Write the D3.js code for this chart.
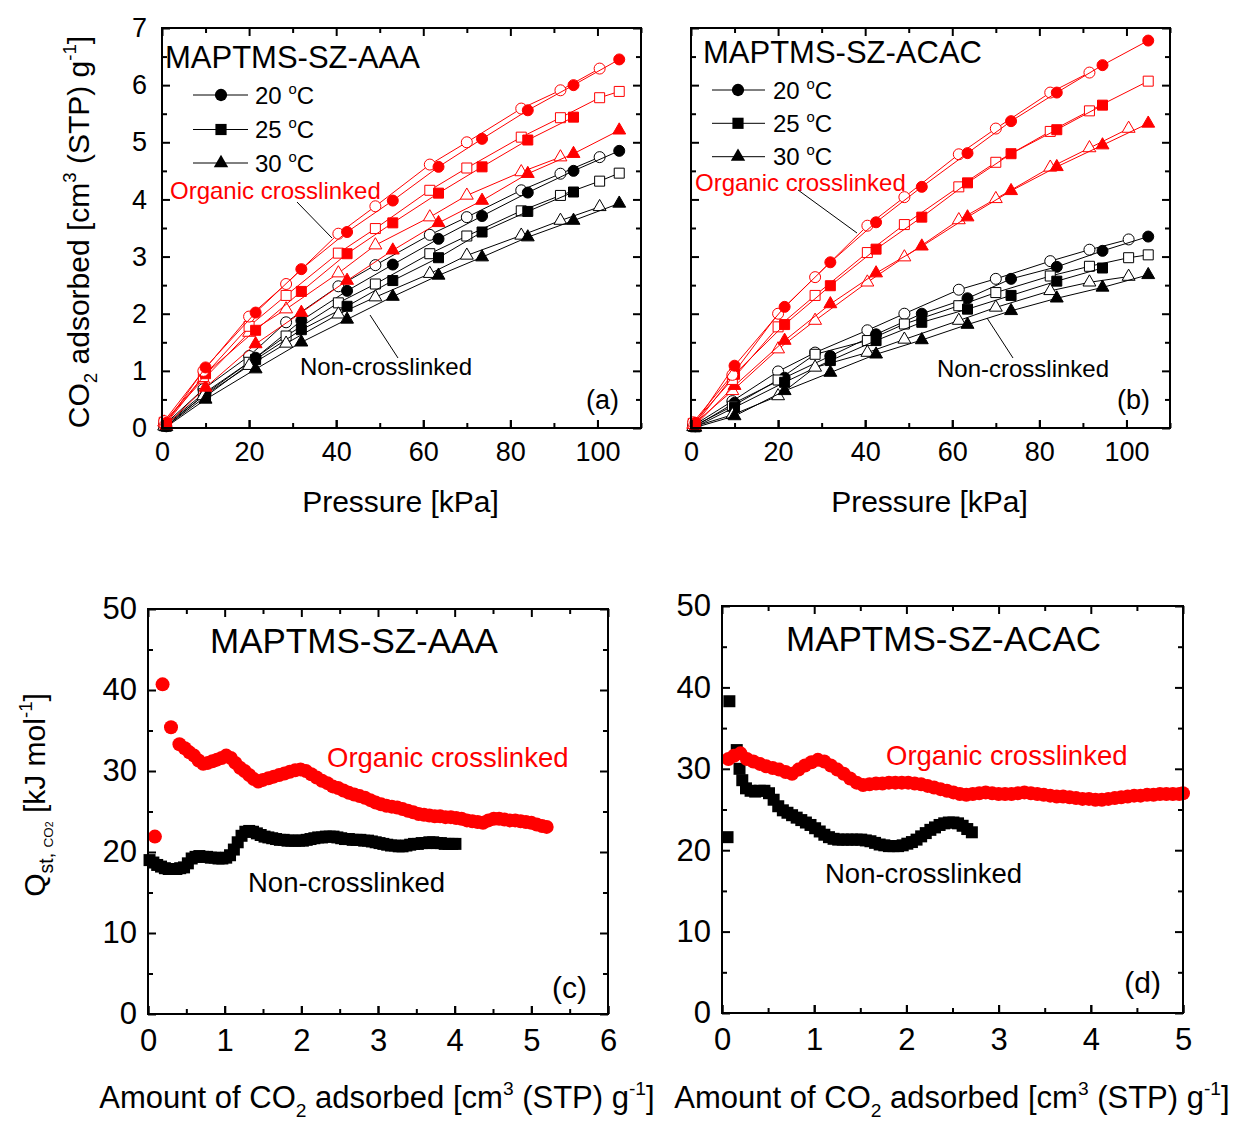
<!DOCTYPE html>
<html>
<head>
<meta charset="utf-8">
<script src="https://cdn.jsdelivr.net/npm/d3@7/dist/d3.min.js"></script>
<style>
  body { margin: 0; background: #fff; }
  svg text { font-family: "Liberation Sans", Arial, sans-serif; }
</style>
</head>
<body>
<div class="chart"></div>
<script>
// ---- data: isotherms (a), (b) ----
const pOpen = [0.5, 9.5, 20, 28.5, 40.5, 49, 61.5, 70, 82.5, 91.5, 100.5, 105];
const pFilled = [1, 10, 21.5, 32, 42.5, 53, 63.5, 73.5, 84, 94.5, 105];

const aRedCircleOpen = [0.12, 1.0, 1.95, 2.52, 3.40, 3.88, 4.61, 5.0, 5.59, 5.91, 6.29, null];
const aRedCircleFilled = [0.09, 1.06, 2.02, 2.78, 3.43, 3.98, 4.57, 5.06, 5.56, 6.0, 6.45];
const aRedSquareOpen = [0.1, 0.9, 1.78, 2.32, 3.06, 3.49, 4.16, 4.55, 5.09, 5.43, 5.78, 5.89];
const aRedSquareFilled = [0.08, 0.95, 1.71, 2.39, 3.05, 3.59, 4.11, 4.57, 5.04, 5.44, null];
const aRedTriangleOpen = [0.1, 0.85, 1.67, 2.08, 2.71, 3.2, 3.69, 4.07, 4.48, 4.74, null, null];
const aRedTriangleFilled = [0.05, 0.71, 1.47, 2.02, 2.58, 3.11, 3.59, 3.98, 4.45, 4.80, 5.21];
const aBlackCircleOpen = [0.05, 0.68, 1.26, 1.85, 2.48, 2.85, 3.38, 3.69, 4.16, 4.45, 4.74, null];
const aBlackCircleFilled = [0.03, 0.6, 1.23, 1.88, 2.40, 2.86, 3.31, 3.71, 4.12, 4.50, 4.85];
const aBlackSquareOpen = [0.04, 0.6, 1.15, 1.61, 2.19, 2.52, 3.05, 3.36, 3.80, 4.07, 4.32, 4.46];
const aBlackSquareFilled = [0.03, 0.55, 1.2, 1.72, 2.13, 2.58, 2.98, 3.43, 3.79, 4.13, null];
const aBlackTriangleOpen = [0.03, 0.56, 1.09, 1.48, 1.99, 2.29, 2.70, 3.02, 3.37, 3.63, 3.87, null];
const aBlackTriangleFilled = [0.02, 0.50, 1.03, 1.50, 1.90, 2.30, 2.67, 2.99, 3.34, 3.63, 3.93];

const bRedCircleOpen = [0.1, 0.93, 2.00, 2.64, 3.54, 4.04, 4.79, 5.24, 5.87, 6.22, null, null];
const bRedCircleFilled = [0.09, 1.09, 2.12, 2.90, 3.60, 4.22, 4.81, 5.37, 5.87, 6.35, 6.78];
const bRedSquareOpen = [0.08, 0.85, 1.77, 2.32, 3.07, 3.56, 4.22, 4.65, 5.19, 5.55, null, 6.07];
const bRedSquareFilled = [0.07, 0.94, 1.81, 2.49, 3.13, 3.69, 4.29, 4.80, 5.22, 5.65, null];
const bRedTriangleOpen = [0.06, 0.65, 1.38, 1.88, 2.55, 2.99, 3.64, 4.01, 4.56, 4.90, 5.24, null];
const bRedTriangleFilled = [0.05, 0.74, 1.53, 2.17, 2.71, 3.18, 3.69, 4.15, 4.57, 4.95, 5.33];
const bBlackCircleOpen = [0.04, 0.47, 0.99, 1.32, 1.71, 2.0, 2.42, 2.61, 2.92, 3.12, 3.30, null];
const bBlackCircleFilled = [0.03, 0.44, 0.88, 1.26, 1.64, 2.0, 2.27, 2.61, 2.82, 3.10, 3.35];
const bBlackSquareOpen = [0.03, 0.38, 0.84, 1.29, 1.53, 1.82, 2.14, 2.37, 2.66, 2.83, 2.98, 3.03];
const bBlackSquareFilled = [0.02, 0.36, 0.80, 1.18, 1.53, 1.85, 2.08, 2.32, 2.57, 2.80, null];
const bBlackTriangleOpen = [0.02, 0.23, 0.56, 1.06, 1.32, 1.55, 1.88, 2.11, 2.40, 2.55, 2.65, null];
const bBlackTriangleFilled = [0.01, 0.21, 0.65, 0.97, 1.29, 1.54, 1.81, 2.05, 2.27, 2.46, 2.68];

// ---- data: heats of adsorption (c), (d) ----
const cRedAmount = [0.09, 0.19, 0.30, 0.41, 0.48, 0.54, 0.60, 0.66, 0.72, 0.78, 0.84, 0.90, 0.96, 1.02, 1.08, 1.14, 1.20, 1.26, 1.32, 1.38, 1.44, 1.50, 1.57, 1.64, 1.71, 1.78, 1.85, 1.92, 1.99, 2.06, 2.13, 2.20, 2.27, 2.34, 2.41, 2.48, 2.55, 2.62, 2.69, 2.76, 2.83, 2.90, 2.97, 3.04, 3.11, 3.18, 3.25, 3.32, 3.39, 3.46, 3.53, 3.60, 3.67, 3.74, 3.81, 3.88, 3.95, 4.02, 4.09, 4.16, 4.23, 4.30, 4.37, 4.44, 4.51, 4.58, 4.65, 4.72, 4.79, 4.86, 4.93, 5.00, 5.07, 5.14, 5.20];
const cRedQ = [21.9, 40.7, 35.4, 33.3, 32.8, 32.3, 31.9, 31.3, 30.9, 31.0, 31.2, 31.4, 31.6, 31.9, 31.6, 31.0, 30.4, 30.0, 29.5, 29.0, 28.7, 28.9, 29.1, 29.3, 29.5, 29.7, 29.9, 30.1, 30.2, 30.0, 29.6, 29.2, 28.8, 28.5, 28.1, 27.9, 27.6, 27.3, 27.1, 26.9, 26.7, 26.4, 26.1, 25.9, 25.7, 25.6, 25.5, 25.3, 25.1, 24.9, 24.7, 24.6, 24.5, 24.4, 24.4, 24.3, 24.3, 24.2, 24.1, 23.9, 23.8, 23.7, 23.6, 23.9, 24.1, 24.1, 24.0, 23.9, 23.9, 23.8, 23.7, 23.6, 23.4, 23.2, 23.1];
const cBlackAmount = [0.02, 0.07, 0.12, 0.17, 0.22, 0.27, 0.32, 0.37, 0.42, 0.47, 0.52, 0.57, 0.62, 0.67, 0.72, 0.77, 0.82, 0.87, 0.92, 0.97, 1.02, 1.07, 1.12, 1.17, 1.22, 1.27, 1.32, 1.37, 1.42, 1.47, 1.52, 1.57, 1.62, 1.67, 1.72, 1.77, 1.82, 1.87, 1.92, 1.97, 2.02, 2.07, 2.12, 2.17, 2.22, 2.27, 2.32, 2.37, 2.42, 2.47, 2.52, 2.57, 2.62, 2.67, 2.72, 2.77, 2.82, 2.87, 2.92, 2.97, 3.02, 3.07, 3.12, 3.17, 3.22, 3.27, 3.32, 3.37, 3.42, 3.47, 3.52, 3.57, 3.62, 3.67, 3.72, 3.77, 3.82, 3.87, 3.92, 3.97, 4.01];
const cBlackQ = [19.0, 18.7, 18.4, 18.2, 18.0, 17.9, 17.9, 17.9, 18.0, 18.1, 18.6, 19.2, 19.4, 19.5, 19.4, 19.4, 19.3, 19.3, 19.2, 19.2, 19.3, 19.6, 20.3, 21.2, 22.0, 22.5, 22.6, 22.5, 22.3, 22.1, 21.9, 21.8, 21.7, 21.6, 21.5, 21.5, 21.4, 21.4, 21.4, 21.4, 21.4, 21.5, 21.6, 21.7, 21.8, 21.8, 21.9, 21.9, 21.9, 21.8, 21.7, 21.6, 21.6, 21.5, 21.5, 21.5, 21.4, 21.4, 21.3, 21.2, 21.1, 21.0, 20.9, 20.8, 20.8, 20.7, 20.7, 20.8, 20.9, 21.0, 21.0, 21.1, 21.1, 21.2, 21.2, 21.1, 21.1, 21.0, 21.0, 21.0, 21.0];

const dRedAmount = [0.07, 0.13, 0.20, 0.27, 0.34, 0.41, 0.48, 0.55, 0.62, 0.69, 0.76, 0.83, 0.90, 0.97, 1.04, 1.11, 1.18, 1.25, 1.32, 1.39, 1.46, 1.53, 1.60, 1.67, 1.74, 1.81, 1.88, 1.95, 2.02, 2.09, 2.16, 2.23, 2.30, 2.37, 2.44, 2.51, 2.58, 2.65, 2.72, 2.79, 2.86, 2.93, 3.00, 3.07, 3.14, 3.21, 3.28, 3.35, 3.42, 3.49, 3.56, 3.63, 3.70, 3.77, 3.84, 3.91, 3.98, 4.05, 4.12, 4.19, 4.26, 4.33, 4.40, 4.47, 4.54, 4.61, 4.68, 4.75, 4.82, 4.89, 4.96, 5.00];
const dRedQ = [31.2, 31.6, 31.9, 31.2, 30.9, 30.6, 30.3, 30.1, 29.9, 29.6, 29.4, 29.9, 30.4, 30.8, 31.1, 30.9, 30.4, 29.9, 29.4, 28.8, 28.3, 28.0, 28.1, 28.2, 28.2, 28.3, 28.3, 28.3, 28.3, 28.2, 28.1, 27.9, 27.7, 27.5, 27.3, 27.1, 26.9, 26.8, 26.9, 27.0, 27.1, 27.0, 26.9, 26.9, 26.9, 27.0, 27.1, 27.0, 26.9, 26.8, 26.7, 26.6, 26.6, 26.5, 26.4, 26.3, 26.3, 26.2, 26.2, 26.3, 26.4, 26.5, 26.6, 26.7, 26.7, 26.8, 26.8, 26.9, 26.9, 26.9, 26.9, 27.0];
const dBlackAmount = [0.08, 0.06, 0.16, 0.19, 0.22, 0.26, 0.31, 0.36, 0.41, 0.46, 0.51, 0.56, 0.61, 0.66, 0.71, 0.76, 0.81, 0.86, 0.91, 0.96, 1.01, 1.06, 1.11, 1.16, 1.21, 1.26, 1.31, 1.36, 1.41, 1.46, 1.51, 1.56, 1.61, 1.66, 1.71, 1.76, 1.81, 1.86, 1.91, 1.96, 2.01, 2.06, 2.11, 2.16, 2.21, 2.26, 2.31, 2.36, 2.41, 2.46, 2.51, 2.56, 2.61, 2.66, 2.71];
const dBlackQ = [38.3, 21.6, 32.3, 30.0, 28.6, 27.6, 27.3, 27.2, 27.3, 27.3, 27.0, 26.2, 25.4, 24.9, 24.6, 24.3, 24.0, 23.7, 23.4, 23.1, 22.7, 22.3, 21.9, 21.6, 21.4, 21.3, 21.3, 21.3, 21.3, 21.3, 21.3, 21.2, 21.1, 20.9, 20.7, 20.6, 20.5, 20.5, 20.5, 20.6, 20.8, 21.0, 21.3, 21.7, 22.1, 22.5, 22.8, 23.1, 23.3, 23.4, 23.4, 23.3, 23.0, 22.6, 22.2];

const tempLabels = ['20 ', '25 ', '30 '];
const isoYTicks = [0, 1, 2, 3, 4, 5, 6, 7];
const isoXTicks = [0, 20, 40, 60, 80, 100];
const qYTicks = [0, 10, 20, 30, 40, 50];

const RED = '#ff0000';
const BLACK = '#000000';

const svg = d3.select('.chart').append('svg')
  .attr('width', 1237).attr('height', 1121);

const shapes = { circle: d3.symbolCircle, square: d3.symbolSquare, triangle: d3.symbolTriangle };
const sizes = { circle: 95, square: 100, triangle: 72 };
const fmt = d3.format('d');

// text with sub/superscripts: parts = [text, kind, scale]
function rich(sel, fs, parts) {
  let shift = 0;
  parts.forEach(([t, kind, scale]) => {
    const target = kind === 'sup' ? -0.42 * fs : kind === 'sub' ? 0.28 * fs : 0;
    sel.append('tspan')
      .attr('dy', target - shift)
      .style('font-size', (fs * (scale || 1)) + 'px')
      .text(t);
    shift = target;
  });
  return sel;
}

function frameAxes(g, x, y, opt) {
  const [x0, x1] = x.range();
  const [y0, y1] = y.range();
  const xMinor = d3.range(x.domain()[0], x.domain()[1] + 1e-9, opt.xMinor);
  const yMinor = d3.range(y.domain()[0], y.domain()[1] + 1e-9, opt.yMinor);
  const isMajor = (v, step) => Math.abs(v / step - Math.round(v / step)) < 1e-6;

  const addAx = (axis, tr, labels, fs) => {
    const a = g.append('g').attr('transform', tr).call(axis);
    a.select('.domain').remove();
    a.selectAll('.tick line').attr('stroke', '#000').attr('stroke-width', 2);
    a.selectAll('text').style('font-size', fs + 'px').attr('fill', '#000');
    if (!labels) a.selectAll('text').remove();
    return a;
  };
  const xMaj = xMinor.filter(v => isMajor(v, opt.xMajor));
  const xMin = xMinor.filter(v => !isMajor(v, opt.xMajor));
  const yMaj = yMinor.filter(v => isMajor(v, opt.yMajor));
  const yMin = yMinor.filter(v => !isMajor(v, opt.yMajor));

  // bottom / top
  addAx(d3.axisBottom(x).tickValues(opt.xLabels).tickFormat(fmt).tickSize(-8).tickPadding(opt.xPad), `translate(0,${y0})`, true, opt.fs);
  addAx(d3.axisBottom(x).tickValues(xMaj).tickSize(-8), `translate(0,${y0})`, false);
  addAx(d3.axisBottom(x).tickValues(xMin).tickSize(-5), `translate(0,${y0})`, false);
  addAx(d3.axisTop(x).tickValues(xMaj).tickSize(-8), `translate(0,${y1})`, false);
  addAx(d3.axisTop(x).tickValues(xMin).tickSize(-5), `translate(0,${y1})`, false);
  // left / right
  addAx(d3.axisLeft(y).tickValues(opt.yLabels || yMaj).tickFormat(fmt).tickSize(-8).tickPadding(opt.yPad), `translate(${x0},0)`, !!opt.yLabels, opt.fs);
  addAx(d3.axisLeft(y).tickValues(yMin).tickSize(-5), `translate(${x0},0)`, false);
  addAx(d3.axisRight(y).tickValues(yMaj).tickSize(-8), `translate(${x1},0)`, false);
  addAx(d3.axisRight(y).tickValues(yMin).tickSize(-5), `translate(${x1},0)`, false);

  g.append('rect')
    .attr('x', x0).attr('y', y1).attr('width', x1 - x0).attr('height', y0 - y1)
    .attr('fill', 'none').attr('stroke', '#000').attr('stroke-width', 2);
}

function drawIsotherms(cfg) {
  const g = svg.append('g');
  const x = d3.scaleLinear().domain([0, 110]).range(cfg.xRange);
  const y = d3.scaleLinear().domain([0, 7]).range([428, 28]);

  const line = d3.line().x(d => x(d[0])).y(d => y(d[1]));
  cfg.series.forEach(s => {
    const ps = s.open ? pOpen : pFilled;
    const pts = s.values.map((v, i) => [ps[i], v]).filter(d => d[1] !== null);
    g.append('path').attr('d', line(pts))
      .attr('fill', 'none').attr('stroke', s.color).attr('stroke-width', 1);
    g.selectAll(null).data(pts).enter().append('path')
      .attr('transform', d => `translate(${x(d[0])},${y(d[1])})`)
      .attr('d', d3.symbol().type(shapes[s.shape]).size(sizes[s.shape]))
      .attr('fill', s.open ? '#fff' : s.color)
      .attr('stroke', s.color).attr('stroke-width', 1);
  });

  frameAxes(g, x, y, {
    xMinor: 10, xMajor: 20, yMinor: 0.5, yMajor: 1,
    xLabels: isoXTicks, yLabels: cfg.yLabels ? isoYTicks : null,
    xPad: 14, yPad: 15, fs: 27
  });

  // title
  g.append('text').attr('x', cfg.title[0]).attr('y', cfg.title[1])
    .style('font-size', '31px').text(cfg.titleText);

  // legend
  const lg = cfg.legend;
  ['circle', 'square', 'triangle'].forEach((sh, i) => {
    const yy = lg.y[i];
    g.append('line').attr('x1', lg.x1).attr('x2', lg.x2).attr('y1', yy).attr('y2', yy)
      .attr('stroke', '#000').attr('stroke-width', 1);
    g.append('path').attr('transform', `translate(${lg.xm},${yy})`)
      .attr('d', d3.symbol().type(shapes[sh]).size(sizes[sh] * 1.25))
      .attr('fill', '#000');
    const t = g.append('text').attr('x', lg.xt).attr('y', yy + 8.6);
    rich(t, 24, [[tempLabels[i], null], ['o', 'sup', 0.62], ['C', null]]);
  });

  g.append('text').attr('x', cfg.org[0]).attr('y', cfg.org[1])
    .style('font-size', '24px').attr('fill', RED).text('Organic crosslinked');
  g.append('line').attr('x1', cfg.orgLine[0]).attr('y1', cfg.orgLine[1])
    .attr('x2', cfg.orgLine[2]).attr('y2', cfg.orgLine[3]).attr('stroke', '#000').attr('stroke-width', 1);
  g.append('text').attr('x', cfg.non[0]).attr('y', cfg.non[1])
    .style('font-size', '24px').text('Non-crosslinked');
  g.append('line').attr('x1', cfg.nonLine[0]).attr('y1', cfg.nonLine[1])
    .attr('x2', cfg.nonLine[2]).attr('y2', cfg.nonLine[3]).attr('stroke', '#000').attr('stroke-width', 1);
  g.append('text').attr('x', cfg.tag[0]).attr('y', cfg.tag[1]).attr('text-anchor', 'end')
    .style('font-size', '27px').text(cfg.tagText);

  g.append('text').attr('x', (cfg.xRange[0] + cfg.xRange[1]) / 2 - 1).attr('y', 512)
    .attr('text-anchor', 'middle').style('font-size', '30px').text('Pressure [kPa]');
}

function isoSeries(p) {
  return [
    { color: BLACK, shape: 'circle', open: true, values: p.bco },
    { color: BLACK, shape: 'circle', open: false, values: p.bcf },
    { color: BLACK, shape: 'square', open: true, values: p.bso },
    { color: BLACK, shape: 'square', open: false, values: p.bsf },
    { color: BLACK, shape: 'triangle', open: true, values: p.bto },
    { color: BLACK, shape: 'triangle', open: false, values: p.btf },
    { color: RED, shape: 'triangle', open: true, values: p.rto },
    { color: RED, shape: 'triangle', open: false, values: p.rtf },
    { color: RED, shape: 'square', open: true, values: p.rso },
    { color: RED, shape: 'square', open: false, values: p.rsf },
    { color: RED, shape: 'circle', open: true, values: p.rco },
    { color: RED, shape: 'circle', open: false, values: p.rcf }
  ];
}

drawIsotherms({
  xRange: [162, 641], yLabels: true,
  title: [165, 68], titleText: 'MAPTMS-SZ-AAA',
  legend: { x1: 193, x2: 248, xm: 221, xt: 255, y: [95, 129.5, 163] },
  org: [170, 198.6], orgLine: [297, 202, 332, 238],
  non: [300, 374.6], nonLine: [370, 315, 398, 358],
  tag: [619, 409], tagText: '(a)',
  series: isoSeries({
    bco: aBlackCircleOpen, bcf: aBlackCircleFilled, bso: aBlackSquareOpen, bsf: aBlackSquareFilled,
    bto: aBlackTriangleOpen, btf: aBlackTriangleFilled, rto: aRedTriangleOpen, rtf: aRedTriangleFilled,
    rso: aRedSquareOpen, rsf: aRedSquareFilled, rco: aRedCircleOpen, rcf: aRedCircleFilled
  })
});

drawIsotherms({
  xRange: [691, 1170], yLabels: false,
  title: [703, 62.5], titleText: 'MAPTMS-SZ-ACAC',
  legend: { x1: 712, x2: 765, xm: 738, xt: 773, y: [90, 123.3, 156.7] },
  org: [695, 190.6], orgLine: [798, 190, 857, 233],
  non: [937, 377], nonLine: [987, 318, 1013, 358],
  tag: [1150, 409], tagText: '(b)',
  series: isoSeries({
    bco: bBlackCircleOpen, bcf: bBlackCircleFilled, bso: bBlackSquareOpen, bsf: bBlackSquareFilled,
    bto: bBlackTriangleOpen, btf: bBlackTriangleFilled, rto: bRedTriangleOpen, rtf: bRedTriangleFilled,
    rso: bRedSquareOpen, rsf: bRedSquareFilled, rco: bRedCircleOpen, rcf: bRedCircleFilled
  })
});

// y title (a)
rich(svg.append('text').attr('transform', 'translate(89,232) rotate(-90)').attr('text-anchor', 'middle'), 30, [
  ['CO', null], ['2', 'sub', 0.62], [' adsorbed [cm', null], ['3', 'sup', 0.62],
  [' (STP) g', null], ['-1', 'sup', 0.62], [']', null]
]);

function drawHeat(cfg) {
  const g = svg.append('g');
  const x = d3.scaleLinear().domain([0, cfg.xMax]).range(cfg.xRange);
  const y = d3.scaleLinear().domain([0, 50]).range(cfg.yRange);

  g.selectAll(null).data(cfg.black.x.map((v, i) => [v, cfg.black.y[i]])).enter()
    .append('path')
    .attr('transform', d => `translate(${x(d[0])},${y(d[1])})`)
    .attr('d', d3.symbol().type(d3.symbolSquare).size(144))
    .attr('fill', BLACK);
  g.selectAll(null).data(cfg.red.x.map((v, i) => [v, cfg.red.y[i]])).enter()
    .append('circle')
    .attr('cx', d => x(d[0])).attr('cy', d => y(d[1])).attr('r', 7)
    .attr('fill', RED);

  frameAxes(g, x, y, {
    xMinor: 0.5, xMajor: 1, yMinor: 5, yMajor: 10,
    xLabels: d3.range(0, cfg.xMax + 1), yLabels: qYTicks,
    xPad: 15, yPad: 11, fs: 31
  });

  g.append('text').attr('x', cfg.title[0]).attr('y', cfg.title[1])
    .style('font-size', '35px').text(cfg.titleText);
  g.append('text').attr('x', cfg.org[0]).attr('y', cfg.org[1])
    .style('font-size', '27.5px').attr('fill', RED).text('Organic crosslinked');
  g.append('text').attr('x', cfg.non[0]).attr('y', cfg.non[1])
    .style('font-size', '27.5px').text('Non-crosslinked');
  g.append('text').attr('x', cfg.tag[0]).attr('y', cfg.tag[1]).attr('text-anchor', 'end')
    .style('font-size', '30px').text(cfg.tagText);

  rich(g.append('text').attr('x', cfg.xTitle).attr('y', 1108).attr('text-anchor', 'middle'), 31, [
    ['Amount of CO', null], ['2', 'sub', 0.62], [' adsorbed [cm', null], ['3', 'sup', 0.62],
    [' (STP) g', null], ['-1', 'sup', 0.62], [']', null]
  ]);
}

drawHeat({
  xMax: 6, xRange: [148, 608], yRange: [1014, 609],
  red: { x: cRedAmount, y: cRedQ }, black: { x: cBlackAmount, y: cBlackQ },
  title: [210, 652.5], titleText: 'MAPTMS-SZ-AAA',
  org: [327, 766.8], non: [248, 891.8], tag: [587, 998], tagText: '(c)',
  xTitle: 377
});

drawHeat({
  xMax: 5, xRange: [722, 1183], yRange: [1013, 606],
  red: { x: dRedAmount, y: dRedQ }, black: { x: dBlackAmount, y: dBlackQ },
  title: [786, 650.5], titleText: 'MAPTMS-SZ-ACAC',
  org: [886, 765], non: [825, 883], tag: [1161, 993], tagText: '(d)',
  xTitle: 952
});

// y title (c)
rich(svg.append('text').attr('transform', 'translate(45,795) rotate(-90)').attr('text-anchor', 'middle'), 30, [
  ['Q', null], ['st, ', 'sub', 0.65], ['CO', 'sub', 0.45], ['2', 'sub', 0.35], [' [kJ mol', null],
  ['-1', 'sup', 0.62], [']', null]
]);
</script>
</body>
</html>
